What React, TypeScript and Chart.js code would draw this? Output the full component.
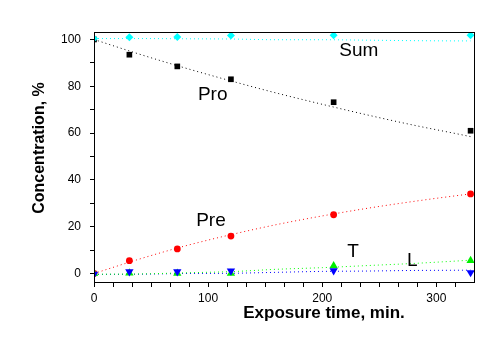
import React, { useEffect, useRef } from 'react';
import { Chart, registerables } from 'chart.js';

Chart.register(...registerables);

// measured points
const times = [0, 31, 73, 120, 210, 330];
const sumValues = [100.4, 101.0, 101.1, 101.7, 101.8, 101.8];
const proValues = [100, 93.5, 88.5, 83.0, 73.2, 61.0];
const preValues = [0, 5.5, 10.5, 16.0, 25.1, 34.0];
const tValues = [0, 0.2, 0.1, 0.1, 3.3, 5.5];
const lValues = [-0.3, 0.8, 0.8, 1.1, 1.2, 0.4];

// dotted fit curves
const fitTimes = [0, 40, 80, 120, 160, 200, 240, 280, 320, 330];
const sumFit = [100.4, 100.4, 100.3, 100.2, 99.9, 99.9, 99.7, 99.5, 99.4, 99.4];
const proFit = [100, 93.7, 87.8, 82.3, 77.1, 72.3, 67.7, 63.4, 59.5, 58.5];
const preFit = [0, 6.2, 11.8, 16.6, 20.9, 24.6, 27.9, 30.8, 33.4, 34.0];
const tFit = [-0.3, -0.2, 0.3, 0.8, 1.8, 2.5, 3.4, 4.3, 5.4, 5.7];
const lFit = [-0.4, -0.3, 0.0, 0.1, 0.5, 0.9, 1.05, 1.3, 1.4, 1.45];

// in-plot labels
const labelTexts = ['Sum', 'Pro', 'Pre', 'T', 'L'];
const labelX = [232, 104, 102.5, 227, 279];
const labelY = [95.1, 76.3, 22.4, 9.2, 5.3];

const xTitle = 'Exposure time, min.';
const yTitle = 'Concentration, %';

const X_MIN = 0;
const X_MAX = 333;
const Y_MIN = -3.63;
const Y_MAX = 103.2;

const FONT = '"Liberation Sans", Arial, sans-serif';

const toPts = (xs: number[], ys: number[]) => xs.map((x, i) => ({ x, y: ys[i] }));

const decorPlugin = {
  id: 'decor',
  afterDraw(chart: any) {
    const { ctx, chartArea, scales } = chart;
    const { left, right, top, bottom } = chartArea;
    ctx.save();
    // frame
    ctx.strokeStyle = '#000';
    ctx.lineWidth = 1;
    ctx.strokeRect(left + 0.5, top + 0.5, right - left, bottom - top);
    // in-plot labels
    ctx.fillStyle = '#000';
    ctx.font = `19px ${FONT}`;
    ctx.textAlign = 'center';
    ctx.textBaseline = 'middle';
    labelTexts.forEach((t, i) => {
      ctx.fillText(t, scales.x.getPixelForValue(labelX[i]), scales.y.getPixelForValue(labelY[i]));
    });
    // axis titles
    ctx.font = `bold 17px ${FONT}`;
    ctx.fillText(xTitle, (left + right) / 2 + 40, bottom + 31);
    ctx.save();
    ctx.translate(39.5, (top + bottom) / 2 - 9);
    ctx.rotate(-Math.PI / 2);
    ctx.font = `bold 16px ${FONT}`;
    ctx.fillText(yTitle, 0, 0);
    ctx.restore();
    ctx.restore();
  },
};

export default function App() {
  const ref = useRef<HTMLCanvasElement>(null);

  useEffect(() => {
    if (!ref.current) return;
    const fitDs = (data: number[], color: string) => ({
      type: 'line' as const,
      data: toPts(fitTimes, data),
      borderColor: color,
      borderWidth: 1,
      borderDash: [1, 3],
      pointRadius: 0,
      fill: false,
      tension: 0.4,
      cubicInterpolationMode: 'monotone' as const,
      order: 10,
    });
    const ptDs = (data: number[], color: string, style: string, radius: number, order: number, rotation = 0) => ({
      type: 'scatter' as const,
      data: toPts(times, data),
      backgroundColor: color,
      borderColor: color,
      borderWidth: 0,
      pointStyle: style,
      pointRadius: radius,
      pointRotation: rotation,
      showLine: false,
      order,
    });

    const chart = new Chart(ref.current, {
      type: 'scatter',
      data: {
        datasets: [
          fitDs(sumFit, '#00ffff'),
          fitDs(proFit, '#000000'),
          fitDs(preFit, '#ff0000'),
          fitDs(tFit, '#00ff00'),
          fitDs(lFit, '#0000ff'),
          ptDs(preValues, '#ff0000', 'circle', 3.4, 6),
          ptDs(proValues, '#000000', 'rect', 4, 5),
          ptDs(tValues, '#00ee00', 'triangle', 4.8, 4),
          ptDs(lValues, '#0000ff', 'triangle', 4.8, 3, 180),
          ptDs(sumValues, '#00ffff', 'rectRot', 4, 2),
        ] as any,
      },
      options: {
        responsive: false,
        animation: false,
        devicePixelRatio: 1,
        layout: { padding: { left: 0, right: 30, top: 32, bottom: 0 } },
        plugins: {
          legend: { display: false },
          tooltip: { enabled: false },
          title: { display: false },
        },
        scales: {
          x: {
            type: 'linear',
            min: X_MIN,
            max: X_MAX,
            border: { display: true, color: '#000', width: 1 },
            grid: { drawOnChartArea: false, tickLength: 5, color: '#000', tickColor: '#000' },
            ticks: {
              stepSize: 100 / 6,
              autoSkip: false,
              includeBounds: false,
              maxRotation: 0,
              padding: 4,
              color: '#000',
              font: { family: FONT, size: 12 },
              callback: (v: any) => {
                const n = Number(v) / 100;
                return Math.abs(n - Math.round(n)) < 1e-6 ? String(Math.round(n) * 100) : '';
              },
            },
            afterFit: (s: any) => { s.height = 355 - 282; },
          },
          y: {
            type: 'linear',
            min: Y_MIN,
            max: Y_MAX,
            border: { display: true, color: '#000', width: 1 },
            grid: { drawOnChartArea: false, tickLength: 4, color: '#000', tickColor: '#000' },
            ticks: {
              stepSize: 10,
              autoSkip: false,
              includeBounds: false,
              padding: 9,
              color: '#000',
              font: { family: FONT, size: 12 },
              callback: (v: any) => {
                const n = Number(v) / 20;
                return Math.abs(n - Math.round(n)) < 1e-6 ? String(Math.round(n) * 20) : '';
              },
            },
            afterFit: (s: any) => { s.width = 94; },
          },
        },
      } as any,
      plugins: [decorPlugin],
    });
    return () => chart.destroy();
  }, []);

  return (
    <div style={{ position: 'absolute', left: 0, top: 0, width: 504, height: 355, background: '#fff' }}>
      <canvas ref={ref} width={504} height={355} style={{ width: 504, height: 355, display: 'block' }} />
    </div>
  );
}
